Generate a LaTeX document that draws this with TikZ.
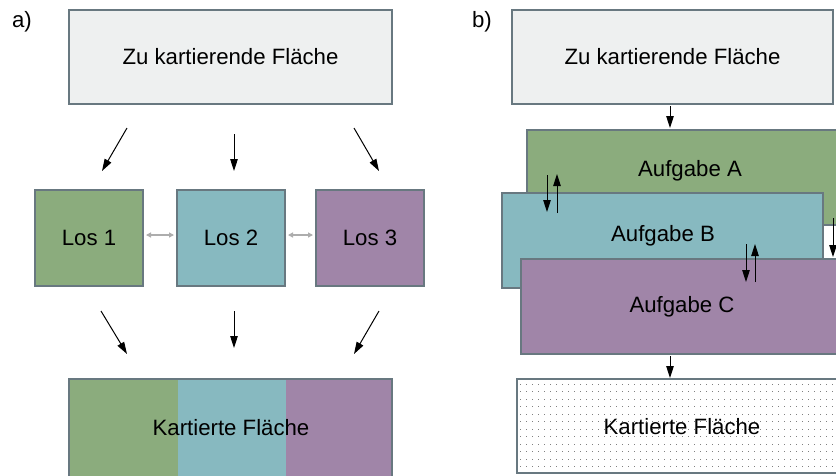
\documentclass[tikz,border=0pt]{standalone}
\usepackage{fontspec}
\setmainfont{Liberation Sans}
\usetikzlibrary{arrows.meta}
\definecolor{rahmen}{RGB}{104,120,128}
\definecolor{fgrau}{RGB}{238,240,240}
\definecolor{fgruen}{RGB}{139,172,125}
\definecolor{fblau}{RGB}{135,185,192}
\definecolor{flila}{RGB}{160,133,168}
\tikzset{
  box/.style={draw=rahmen, line width=2pt, inner sep=0pt, font=\fontsize{22.2}{26}\selectfont},
  strip/.style={inner sep=0pt, minimum width=108pt, minimum height=100pt},
  lbl/.style={inner sep=0pt, font=\fontsize{22.2}{26}\selectfont},
  arr/.style={-{Triangle[length=12pt,width=7.5pt]}, line width=1pt},
  garr/.style={{Triangle[length=5pt,width=5pt]}-{Triangle[length=5pt,width=5pt]}, line width=1.2pt, draw=black!32},
  dotrow/.style={draw=black!50, line width=1pt, dash pattern=on 0.8pt off 5.2pt}
}
\begin{document}
\begin{tikzpicture}[x=1pt,y=-1pt]
\clip (0,0) rectangle (836,475);
\fill[white] (0,0) rectangle (836,475);
% a)
\node[lbl] (la) at (22,22) {a)};
\node[box, fill=fgrau, minimum width=323pt, minimum height=94pt] (flA) at (230.5,57) {Zu kartierende Fläche};
\node[box, fill=fgruen, minimum width=108pt, minimum height=96pt] (los1) at (89,238) {Los 1};
\node[box, fill=fblau, minimum width=108pt, minimum height=96pt] (los2) at (231,238) {Los 2};
\node[box, fill=flila, minimum width=108pt, minimum height=96pt] (los3) at (370,238) {Los 3};
\draw[garr, shorten <=2pt, shorten >=2pt] ([yshift=3pt]los1.east) -- ([yshift=3pt]los2.west);
\draw[garr, shorten <=2pt, shorten >=2pt] ([yshift=3pt]los2.east) -- ([yshift=3pt]los3.west);
\coordinate (o1) at (127,128); \coordinate (o1e) at (102,171);
\coordinate (o2) at (234,134); \coordinate (o2e) at (234,171);
\coordinate (o3) at (354,128); \coordinate (o3e) at (379,171);
\draw[arr] (o1) -- (o1e);
\draw[arr] (o2) -- (o2e);
\draw[arr] (o3) -- (o3e);
\coordinate (u1) at (101,311); \coordinate (u1e) at (127,354);
\coordinate (u2) at (234,311); \coordinate (u2e) at (234,348);
\coordinate (u3) at (379,311); \coordinate (u3e) at (354,354);
\draw[arr] (u1) -- (u1e);
\draw[arr] (u2) -- (u2e);
\draw[arr] (u3) -- (u3e);
\node[strip, fill=fgruen, minimum width=109pt] (s1) at (123.5,429) {};
\node[strip, fill=fblau] (s2) at (232,429) {};
\node[strip, fill=flila, minimum width=106pt] (s3) at (339,429) {};
\node[box, minimum width=323pt, minimum height=100pt] (kfA) at (230.5,429) {};
\node[lbl] (kfAt) at (231,428) {Kartierte Fläche};
% b)
\node[lbl] (lb) at (482,22) {b)};
\node[box, fill=fgrau, minimum width=321pt, minimum height=94pt] (flB) at (672.5,57) {Zu kartierende Fläche};
\node[box, fill=fgruen, minimum width=321pt, minimum height=95pt] (aufA) at (687.5,177.5) {};
\node[lbl] (aufAt) at (690,171) {Aufgabe A};
\node[box, fill=fblau, minimum width=321pt, minimum height=95pt] (aufB) at (662.5,240.5) {};
\node[lbl] (aufBt) at (663,236) {Aufgabe B};
\node[box, fill=flila, minimum width=321pt, minimum height=95pt] (aufC) at (681.5,306.5) {};
\node[lbl] (aufCt) at (682,307) {Aufgabe C};
\foreach \yy in {384,391.5,...,470} \draw[dotrow] (520,\yy) -- (836,\yy);
\node[box, minimum width=321pt, minimum height=94pt] (kfB) at (677.5,426) {};
\node[lbl] (kfBt) at (682,427) {Kartierte Fläche};
\coordinate (b0) at (670,106); \coordinate (b0e) at (670,128);
\draw[arr] (b0) -- (b0e);
\coordinate (ab1) at (547,175); \coordinate (ab1e) at (547,212);
\coordinate (ab2) at (557,213); \coordinate (ab2e) at (557,174);
\draw[arr] (ab1) -- (ab1e);
\draw[arr] (ab2) -- (ab2e);
\coordinate (bc1) at (746,244); \coordinate (bc1e) at (746,282);
\coordinate (bc2) at (755,282); \coordinate (bc2e) at (755,244);
\draw[arr] (bc1) -- (bc1e);
\draw[arr] (bc2) -- (bc2e);
\coordinate (ac1) at (833,218); \coordinate (ac1e) at (833,257);
\coordinate (ac2) at (843,257); \coordinate (ac2e) at (843,218);
\draw[arr] (ac1) -- (ac1e);
\draw[arr] (ac2) -- (ac2e);
\coordinate (ck) at (670,356); \coordinate (cke) at (670,378);
\draw[arr] (ck) -- (cke);
\end{tikzpicture}
\end{document}
